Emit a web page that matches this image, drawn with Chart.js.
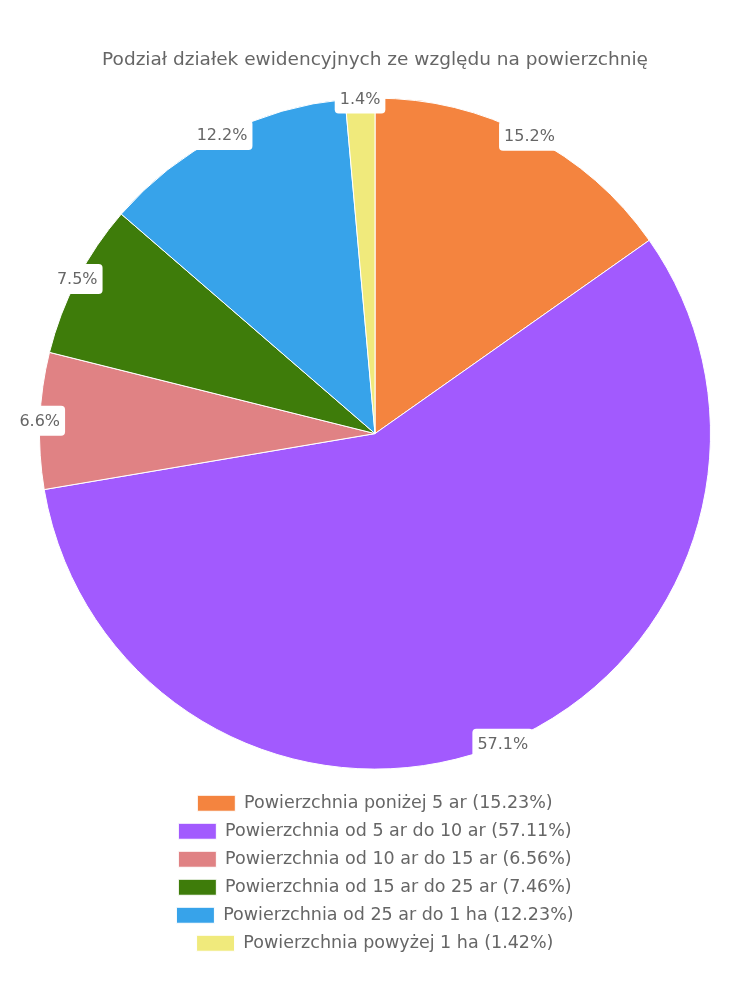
<!DOCTYPE html>
<html>
<head>
<meta charset="utf-8">
<script src="https://cdn.jsdelivr.net/npm/chart.js@4"></script>
<style>
html,body{margin:0;padding:0;background:#fff;}
#wrap{width:750px;height:1000px;position:relative;}
</style>
</head>
<body>
<div id="wrap"><canvas id="c" width="750" height="1000"></canvas></div>
<script>
const titleText = 'Podział działek ewidencyjnych ze względu na powierzchnię';
const categories = [
  'Powierzchnia poniżej 5 ar',
  'Powierzchnia od 5 ar do 10 ar',
  'Powierzchnia od 10 ar do 15 ar',
  'Powierzchnia od 15 ar do 25 ar',
  'Powierzchnia od 25 ar do 1 ha',
  'Powierzchnia powyżej 1 ha'
];
const values = [15.23, 57.11, 6.56, 7.46, 12.23, 1.42];
const colors = ['#F4843F', '#A25AFE', '#E08284', '#3E7C0A', '#37A3EA', '#F0EA7C'];

const FONT = "'DejaVu Sans', sans-serif";
Chart.defaults.font.family = FONT;
Chart.defaults.color = '#666';

const edgeLabels = {
  id: 'edgeLabels',
  afterDatasetsDraw(chart) {
    const ctx = chart.ctx;
    const meta = chart.getDatasetMeta(0);
    const data = chart.data.datasets[0].data;
    const total = data.reduce((a, b) => a + b, 0);
    ctx.save();
    ctx.font = '16px ' + FONT;
    ctx.textAlign = 'center';
    ctx.textBaseline = 'middle';
    meta.data.forEach((arc, i) => {
      const p = arc.getProps(['x', 'y', 'startAngle', 'endAngle', 'outerRadius'], true);
      const mid = (p.startAngle + p.endAngle) / 2;
      const cx = p.x + Math.cos(mid) * p.outerRadius;
      const cy = p.y + Math.sin(mid) * p.outerRadius;
      const txt = (data[i] / total * 100).toFixed(1) + '%';
      const w = ctx.measureText(txt).width + 10;
      const h = 30;
      ctx.fillStyle = '#fff';
      ctx.beginPath();
      ctx.roundRect(cx - w / 2, cy - h / 2, w, h, 4);
      ctx.fill();
      ctx.fillStyle = '#666';
      ctx.fillText(txt, cx, cy + 1);
    });
    ctx.restore();
  }
};

new Chart(document.getElementById('c'), {
  type: 'pie',
  data: {
    labels: categories.map((c, i) => c + ' (' + values[i].toFixed(2) + '%)'),
    datasets: [{
      data: values,
      backgroundColor: colors,
      borderColor: '#fff',
      borderWidth: 1
    }]
  },
  options: {
    responsive: false,
    animation: false,
    layout: { padding: { top: 0, bottom: 38, left: 39, right: 39 } },
    plugins: {
      title: {
        display: true,
        text: titleText,
        color: '#666',
        font: { size: 18.5, weight: 'normal' },
        padding: { top: 49, bottom: 12 }
      },
      legend: {
        position: 'bottom',
        labels: {
          boxWidth: 38,
          boxHeight: 16,
          padding: 10.5,
          color: '#666',
          font: { size: 17.5 }
        }
      },
      tooltip: { enabled: false }
    }
  },
  plugins: [edgeLabels]
});
</script>
</body>
</html>
